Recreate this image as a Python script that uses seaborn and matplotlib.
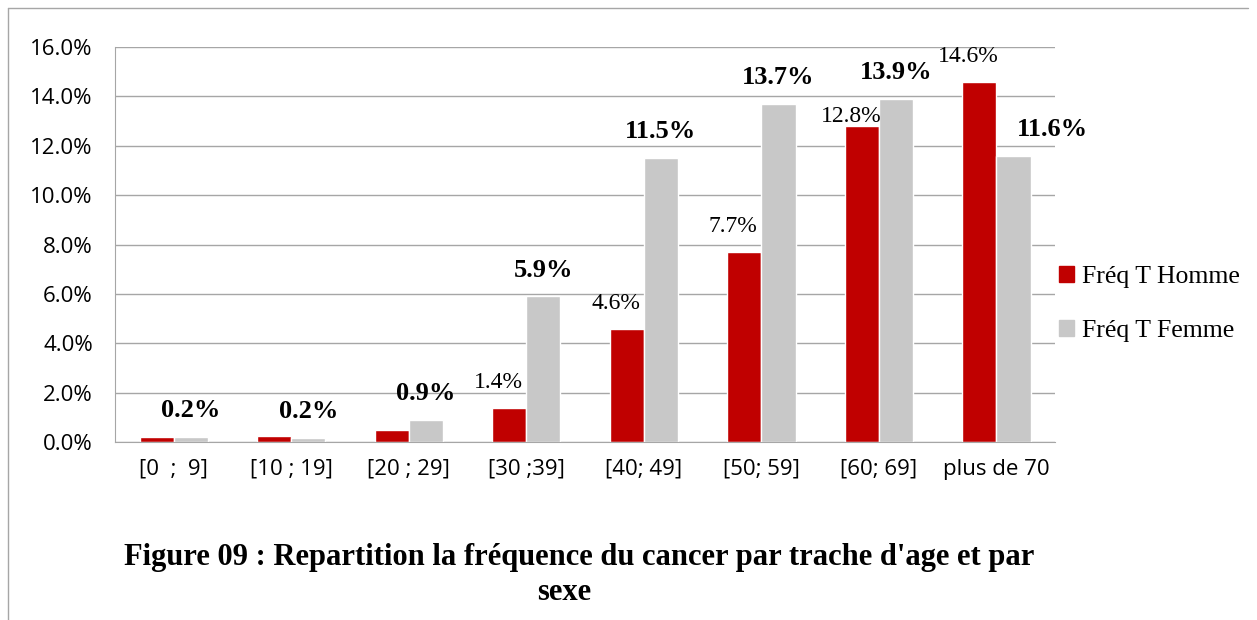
import matplotlib.pyplot as plt
import matplotlib.lines as mlines
import pandas as pd
import seaborn as sns

# data (percent)
ages = ['[0  ;  9]', '[10 ; 19]', '[20 ; 29]', '[30 ;39]',
        '[40; 49]', '[50; 59]', '[60; 69]', 'plus de 70']
homme = [0.2, 0.25, 0.5, 1.4, 4.6, 7.7, 12.8, 14.6]
femme = [0.2, 0.15, 0.9, 5.9, 11.5, 13.7, 13.9, 11.6]
homme_labels = ['', '', '', '1.4%', '4.6%', '7.7%', '12.8%', '14.6%']
femme_labels = ['0.2%', '0.2%', '0.9%', '5.9%', '11.5%', '13.7%', '13.9%', '11.6%']
series = ['Fréq T Homme', 'Fréq T Femme']
colors = ['#C00000', '#C8C8C8']

df = pd.DataFrame({
    'age': ages * 2,
    'serie': [series[0]] * len(ages) + [series[1]] * len(ages),
    'freq': homme + femme,
})

sns.set_style('white')
plt.rcParams['font.family'] = ['Open Sans', 'DejaVu Sans']
plt.rcParams['text.color'] = 'black'
plt.rcParams['xtick.color'] = 'black'
plt.rcParams['ytick.color'] = 'black'

fig = plt.figure(figsize=(12.57, 6.2), dpi=100)
ax = fig.add_axes([0.0915, 0.287, 0.748, 0.637])

sns.barplot(data=df, x='age', y='freq', hue='serie', order=ages,
            hue_order=series, palette=colors, width=0.58, gap=0,
            saturation=1, ax=ax, legend=False)

ax.set_ylim(0, 16)
ax.set_yticks(range(0, 17, 2))
ax.set_yticklabels([f'{v:.1f}%' for v in range(0, 17, 2)], fontsize=16)
ax.tick_params(axis='x', labelsize=16, pad=12, length=0)
ax.tick_params(axis='y', length=0, pad=16)
ax.set_xlabel('')
ax.set_ylabel('')
ax.yaxis.grid(True, color='#a6a6a6', linewidth=1)
ax.set_axisbelow(True)
for s in ['top', 'right']:
    ax.spines[s].set_visible(False)
for s in ['left', 'bottom']:
    ax.spines[s].set_color('#a6a6a6')

# value labels
h_bars, f_bars = ax.containers[0], ax.containers[1]
for bar, lab in zip(h_bars, homme_labels):
    if not lab:
        continue
    dy = 7 if lab == '12.8%' else 18
    ax.annotate(lab, (bar.get_x() + bar.get_width() / 2, bar.get_height()),
                xytext=(-8, dy), textcoords='offset points', ha='center',
                va='center', fontsize=17, family='Liberation Serif')
for i, (bar, lab) in enumerate(zip(f_bars, femme_labels)):
    dx = 28 if i == len(femme_labels) - 1 else 0
    ax.annotate(lab, (bar.get_x() + bar.get_width() / 2, bar.get_height()),
                xytext=(dx, 19), textcoords='offset points', ha='center',
                va='center', fontsize=19, fontweight='bold',
                family='Liberation Serif')

handles = [plt.Rectangle((0, 0), 1, 1, color=c) for c in colors]
fig.legend(handles, series, loc='center left', bbox_to_anchor=(0.824, 0.51),
           frameon=False, prop={'family': 'Liberation Serif', 'size': 18.5},
           handlelength=0.6, handleheight=0.6, handletextpad=0.3,
           labelspacing=1.25)

fig.text(0.461, 0.1, "Figure 09 : Repartition la fréquence du cancer par trache d'age et par",
         ha='center', va='center', fontsize=22, fontweight='bold',
         family='Liberation Serif')
fig.text(0.449, 0.045, 'sexe', ha='center', va='center', fontsize=22,
         fontweight='bold', family='Liberation Serif')

# page frame lines
fig.add_artist(mlines.Line2D([0.0064, 0.0064], [0, 0.987], color='#a6a6a6', lw=1))
fig.add_artist(mlines.Line2D([0.0064, 0.993], [0.987, 0.987], color='#a6a6a6', lw=1))

fig.savefig('out.png', dpi=100)
